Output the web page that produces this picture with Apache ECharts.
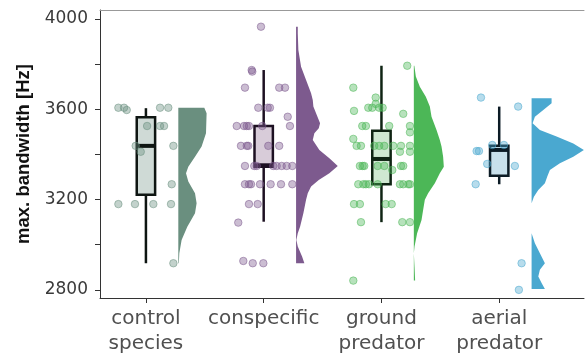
<!DOCTYPE html>
<html><head><meta charset="utf-8">
<script src="https://cdn.jsdelivr.net/npm/echarts@6/dist/echarts.min.js"></script>
<style>html,body{margin:0;padding:0;background:#fff}#c{width:585px;height:354px}</style>
</head><body><div id="c"></div><script>
// ---------- data ----------
const categories = ['control\nspecies', 'conspecific', 'ground\npredator', 'aerial\npredator'];
const groupPos = [1, 2, 3, 4];
const yTicks = [2800, 3000, 3200, 3400, 3600, 3800, 4000];
const yLabels = [2800, 3200, 3600, 4000];

// box statistics: [lower whisker, Q1, median, Q3, upper whisker]
const box_control = [2918, 3221, 3438, 3565, 3605];
const box_conspecific = [3102, 3345, 3352, 3526, 3774];
const box_ground = [3100, 3268, 3380, 3505, 3793];
const box_aerial = [3268, 3306, 3420, 3438, 3612];

// jittered raw observations (x = jittered group position, y = Hz)
const ptsX_control = [0.766,0.814,0.837,1.12,1.19,1.01,1.12,1.154,0.913,0.956,1.233,1.219,0.766,0.907,1.063,1.213,1.233];
const ptsY_control = [3607,3607,3597,3607,3607,3526,3526,3526,3438,3412,3438,3268,3180,3180,3180,3180,2918];

const ptsX_conspecific = [1.977,1.898,1.903,1.841,2.132,2.181,1.954,2.034,2.053,2.204,1.771,1.833,1.856,1.875,1.988,2.223,1.807,1.856,1.869,2.039,2.132,1.841,1.920,1.941,2.081,2.110,2.153,2.195,2.243,1.841,1.875,1.892,1.969,2.059,2.147,2.243,1.875,1.949,1.784,1.827,1.907,1.997];
const ptsY_conspecific = [3966,3774,3767,3696,3696,3696,3607,3607,3607,3567,3526,3526,3526,3526,3526,3526,3438,3438,3438,3438,3438,3349,3349,3349,3349,3349,3349,3349,3349,3268,3268,3268,3268,3268,3268,3268,3180,3180,3098,2928,2918,2918];

const ptsX_ground = [3.219,2.761,2.951,2.951,2.888,2.922,2.981,3.010,2.767,3.185,2.837,2.868,3.066,3.242,3.242,2.761,2.789,2.826,2.939,2.981,3.024,3.100,3.166,3.242,3.157,3.242,2.817,2.840,2.854,2.968,3.024,3.166,3.185,3.092,2.803,2.846,2.868,2.894,2.968,3.157,3.185,3.228,3.242,2.767,2.817,3.036,3.087,2.826,3.177,3.242,2.761];
const ptsY_ground = [3793,3696,3652,3624,3607,3607,3607,3607,3593,3580,3526,3526,3526,3526,3498,3469,3438,3438,3438,3438,3438,3438,3438,3438,3412,3412,3349,3349,3349,3349,3349,3349,3349,3331,3268,3268,3268,3268,3268,3268,3268,3268,3268,3180,3180,3180,3180,3100,3100,3100,2841];

const ptsX_aerial = [3.845,4.161,3.808,3.828,3.941,4.040,3.898,4.133,3.800,4.190,4.167];
const ptsY_aerial = [3652,3612,3415,3415,3442,3442,3358,3349,3268,2918,2800];

// half-violin density profiles (y in Hz, width in density units)
const violinY_control = [3607,3582,3494,3435,3390,3346,3317,3280,3228,3184,3140,3080,3021,2962,2918];
const violinW_control = [26,28.3,27.7,23.3,16.7,10,7.7,10,16.7,18.3,16.7,9,3.3,1,0.5];

const violinY_conspecific = [3966,3937,3863,3789,3730,3671,3641,3612,3575,3538,3516,3494,3464,3420,3383,3349,3317,3287,3258,3228,3199,3140,3080,3051,3021,2992,2948,2918];
const violinW_conspecific = [1.7,1.7,2.3,5,10,15,16.7,17.3,20.7,24,22.7,18.3,16.7,23.3,33.3,41.7,33.3,22.7,15,11.7,10,7.3,4,1.7,0.3,1.7,6,8.3];

const violinY_ground = [3793,3745,3700,3656,3612,3567,3508,3464,3435,3390,3346,3317,3272,3228,3199,3154,3110,3051,2992,2962,2903,2841];
const violinW_ground = [0.5,2,6,12,16,17.7,22.7,26,27.7,29.3,30,26,21,14.3,11,9.3,7.7,3.3,0.7,0,0.7,1.3];

const violinY_aerial = [3649,3627,3597,3567,3538,3508,3479,3449,3420,3390,3361,3331,3302,3272,3243,3213,3184,3051,3007,2962,2918,2889,2859,2830,2804];
const violinW_aerial = [20,20,11.7,3.3,1,8.3,25,41.7,52.3,41.7,28.3,18.3,15.7,13.3,6.7,2.3,0,0,3.3,8.3,13.3,8.3,6.7,10,13.3];

// ---------- assembly ----------
const boxes = [box_control, box_conspecific, box_ground, box_aerial];
const ptsX = [ptsX_control, ptsX_conspecific, ptsX_ground, ptsX_aerial];
const ptsY = [ptsY_control, ptsY_conspecific, ptsY_ground, ptsY_aerial];
const violinY = [violinY_control, violinY_conspecific, violinY_ground, violinY_aerial];
const violinW = [violinW_control, violinW_conspecific, violinW_ground, violinW_aerial];

const violinColors = ['#6a8f7f', '#7d5a8e', '#4cb757', '#4aa8d0'];
const boxFill = ['#cfdad6', '#d8ccd9', '#cfe8d1', '#c8e0eb'];
const boxStroke = ['#0e1512', '#1d1022', '#0f2413', '#0c1b25'];
const ptFill = ['rgba(106,143,127,0.5)', 'rgba(125,90,142,0.5)', 'rgba(76,183,87,0.5)', 'rgba(74,168,208,0.5)'];
const ptEdge = ['rgba(106,143,127,0.65)', 'rgba(125,90,142,0.65)', 'rgba(76,183,87,0.65)', 'rgba(74,168,208,0.65)'];

const X_MIN = 0.61, X_MAX = 4.72, Y_MIN = 2764, Y_MAX = 4040;
const VIOLIN_OFFSET = 0.275, VIOLIN_SCALE = 1 / 117.8, BOX_HALF = 0.078;

function violinRender(params, api) {
  const i = params.dataIndex;
  const ys = violinY[i], ws = violinW[i], p = groupPos[i];
  const pts = [api.coord([p + VIOLIN_OFFSET, ys[0]])];
  for (let k = 0; k < ys.length; k++) {
    pts.push(api.coord([p + VIOLIN_OFFSET + ws[k] * VIOLIN_SCALE, ys[k]]));
  }
  pts.push(api.coord([p + VIOLIN_OFFSET, ys[ys.length - 1]]));
  return { type: 'polygon', shape: { points: pts }, style: { fill: violinColors[i], stroke: null } };
}

function boxRender(params, api) {
  const i = params.dataIndex, s = boxes[i], p = groupPos[i];
  const lo = api.coord([p, s[0]]), q1 = api.coord([p, s[1]]), md = api.coord([p, s[2]]),
        q3 = api.coord([p, s[3]]), hi = api.coord([p, s[4]]);
  const left = api.coord([p - BOX_HALF, s[2]])[0], right = api.coord([p + BOX_HALF, s[2]])[0];
  const st = boxStroke[i];
  return {
    type: 'group',
    children: [
      { type: 'line', shape: { x1: hi[0], y1: hi[1], x2: q3[0], y2: q3[1] }, style: { stroke: st, lineWidth: 2.5 } },
      { type: 'line', shape: { x1: q1[0], y1: q1[1], x2: lo[0], y2: lo[1] }, style: { stroke: st, lineWidth: 2.5 } },
      { type: 'rect', shape: { x: left, y: q3[1], width: right - left, height: q1[1] - q3[1] },
        style: { fill: boxFill[i], stroke: st, lineWidth: 2.5 } },
      { type: 'line', shape: { x1: left, y1: md[1], x2: right, y2: md[1] }, style: { stroke: st, lineWidth: 4 } }
    ]
  };
}

const series = [
  { type: 'custom', renderItem: violinRender, data: groupPos.map((p, i) => [p, boxes[i][2]]), z: 1, silent: true },
  { type: 'custom', renderItem: boxRender, data: groupPos.map((p, i) => [p, boxes[i][2]]), z: 2, silent: true }
];
for (let i = 0; i < 4; i++) {
  series.push({
    type: 'scatter', z: 3, symbol: 'circle', symbolSize: 7.5,
    data: ptsX[i].map((x, k) => [x, ptsY[i][k]]),
    itemStyle: { color: ptFill[i], borderColor: ptEdge[i], borderWidth: 1 }
  });
}

const chart = echarts.init(document.getElementById('c'), null, { renderer: 'canvas' });
chart.setOption({
  animation: false,
  backgroundColor: '#fff',
  grid: { left: 100, top: 10, right: 1, bottom: 56, containLabel: false, outerBoundsMode: 'none' },
  xAxis: [{
    type: 'value', min: X_MIN, max: X_MAX, position: 'bottom',
    axisLine: { show: true, onZero: false, lineStyle: { color: '#333', width: 1 } },
    axisTick: { show: true, length: 5, customValues: groupPos, lineStyle: { color: '#333' } },
    axisLabel: {
      customValues: groupPos, formatter: v => categories[Math.round(v) - 1],
      fontSize: 20, fontFamily: 'DejaVu Sans', color: '#505050', lineHeight: 24.5, margin: 9
    },
    splitLine: { show: false }
  }, {
    type: 'value', min: X_MIN, max: X_MAX, position: 'top',
    axisLine: { show: true, onZero: false, lineStyle: { color: '#999', width: 1 } },
    axisTick: { show: false }, axisLabel: { show: false }, splitLine: { show: false }
  }],
  yAxis: {
    type: 'value', min: Y_MIN, max: Y_MAX,
    axisLine: { show: true, onZero: false, lineStyle: { color: '#333', width: 1 } },
    axisTick: { show: true, length: 5, customValues: yTicks, lineStyle: { color: '#333' } },
    axisLabel: { customValues: yLabels, formatter: v => String(v), fontSize: 17, fontFamily: 'DejaVu Sans', color: '#3a3a3a', margin: 12 },
    splitLine: { show: false },
    name: 'max. bandwidth [Hz]', nameLocation: 'middle', nameGap: 67, nameMoveOverlap: false,
    nameTextStyle: { fontWeight: 'bold', fontSize: 18.5, fontFamily: 'Liberation Sans', color: '#111' }
  },
  series: series
});
</script></body></html>
